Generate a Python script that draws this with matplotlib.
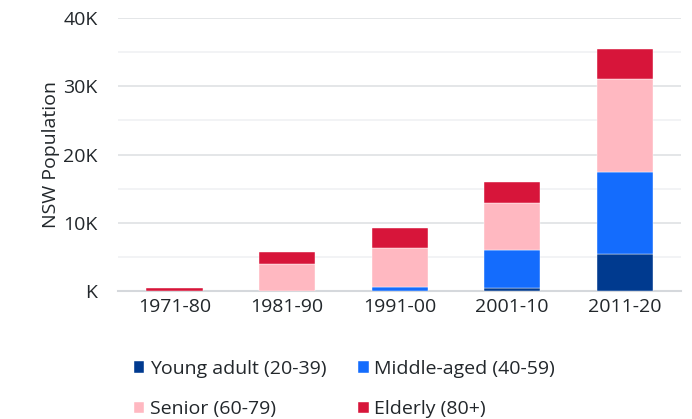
import matplotlib.pyplot as plt
import matplotlib.ticker as mticker
import numpy as np

decades = ['1971-80', '1981-90', '1991-00', '2001-10', '2011-20']
young = [0, 0, 0.05, 0.45, 5.5]
middle = [0, 0.05, 0.55, 5.55, 12.0]
senior = [0.05, 4.0, 5.75, 6.9, 13.6]
elderly = [0.45, 1.65, 2.9, 3.1, 4.4]

series = [
    ('Young adult (20-39)', young, '#003A8F'),
    ('Middle-aged (40-59)', middle, '#146CFD'),
    ('Senior (60-79)', senior, '#FFB8C1'),
    ('Elderly (80+)', elderly, '#D7153A'),
]

plt.rcParams['font.family'] = ['Open Sans', 'DejaVu Sans']
txt = '#22272B'

fig = plt.figure(figsize=(6.92, 4.19), dpi=100)
ax = fig.add_axes([0.171, 0.305, 0.813, 0.652])

x = np.arange(len(decades))
bottom = np.zeros(len(decades))
bars = []
for name, vals, col in series:
    vals = np.array(vals) * 1000
    b = ax.bar(x, vals, 0.5, bottom=bottom, color=col, label=name,
               edgecolor='white', linewidth=0.3, zorder=3)
    bars.append(b)
    bottom += vals

ax.set_xlim(-0.5, 4.5)
ax.set_ylim(0, 40000)
ax.yaxis.set_major_locator(mticker.MultipleLocator(10000))
ax.yaxis.set_minor_locator(mticker.MultipleLocator(5000))
ax.yaxis.set_major_formatter(mticker.FuncFormatter(
    lambda v, p: 'K' if v == 0 else f'{int(v / 1000)}K'))
ax.grid(axis='y', which='major', color='#dfe1e4', linewidth=1.2, zorder=0)
ax.grid(axis='y', which='minor', color='#f0f1f3', linewidth=1.2, zorder=0)
ax.set_xticks(x)
ax.set_xticklabels(decades)
ax.tick_params(axis='both', length=0, labelsize=14, colors=txt)
ax.tick_params(axis='x', pad=5)
ax.tick_params(axis='y', pad=15)
ax.tick_params(axis='y', which='minor', length=0)
for s in ['top', 'right', 'left']:
    ax.spines[s].set_visible(False)
ax.spines['bottom'].set_color('#d5d8dc')
ax.spines['bottom'].set_linewidth(1.5)
ax.set_ylabel('NSW Population', fontsize=14, color=txt, labelpad=2)

# row-major order: young, middle / senior, elderly
order = [0, 2, 1, 3]
leg = fig.legend([bars[i] for i in order], [series[i][0] for i in order],
                 loc='lower left', bbox_to_anchor=(0.168, -0.04), ncol=2,
                 frameon=False, fontsize=14, handlelength=0.55,
                 handleheight=0.55, handletextpad=0.3, columnspacing=1.6,
                 labelspacing=1.16, labelcolor=txt)

fig.savefig('out.png', dpi=100)
